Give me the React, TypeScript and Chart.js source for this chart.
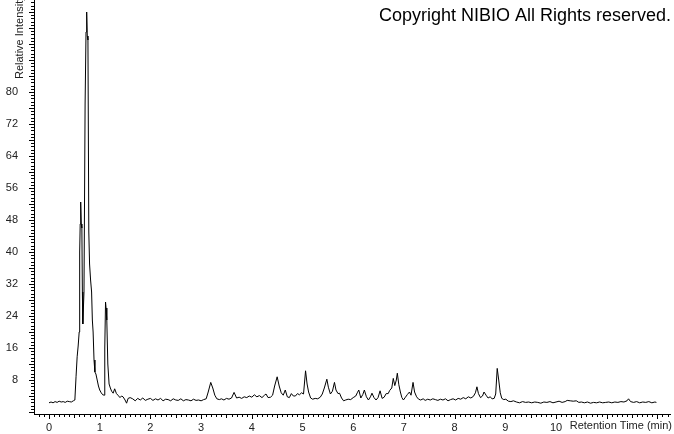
import { useEffect, useRef } from 'react';
import { Chart, registerables } from 'chart.js';

Chart.register(...registerables);

// ---- Data (retention time in minutes, relative intensity) ----
const earlyTimes = [
  0.0, 0.04, 0.08, 0.12, 0.16, 0.2, 0.24, 0.28, 0.32, 0.36, 0.4, 0.44, 0.48, 0.51,
  0.533, 0.555, 0.575, 0.595, 0.605, 0.615, 0.625, 0.637, 0.648, 0.658, 0.667, 0.69, 0.712,
  0.73, 0.743, 0.755, 0.768, 0.785, 0.8, 0.82, 0.84, 0.855, 0.87, 0.888, 0.905, 0.925,
  0.95, 0.975, 1.0, 1.03, 1.06, 1.09, 1.1, 1.115, 1.125, 1.14, 1.16, 1.185, 1.21, 1.235,
  1.265, 1.295, 1.33, 1.36, 1.4, 1.43, 1.46, 1.5, 1.53, 1.56, 1.6,
];
const earlyIntensity = [
  2.3, 2.5, 2.3, 2.6, 2.4, 2.7, 2.5, 2.6, 2.4, 2.7, 2.6, 2.5, 2.8, 3.0,
  8.8, 13.8, 16.5, 20, 40, 47, 52.5, 47, 46, 30, 22, 30, 77,
  95, 100, 94, 93, 45, 37, 33, 30, 23, 20, 13, 10, 9.5,
  8, 6.5, 5.5, 4.8, 4.3, 4.2, 16, 27.5, 26, 23, 12, 7, 6, 5.2,
  4.7, 5.8, 4.6, 4.2, 3.6, 4.0, 3.8, 3.0, 2.2, 3.4, 3.6,
];

const midTimes = [
  1.65, 1.7, 1.75, 1.8, 1.85, 1.9, 1.95, 2.0, 2.05, 2.1, 2.15, 2.2, 2.25, 2.3, 2.35, 2.4,
  2.45, 2.5, 2.55, 2.6, 2.65, 2.7, 2.75, 2.8, 2.85, 2.9, 2.95, 3.0, 3.05,
  3.1, 3.14, 3.19, 3.23, 3.27, 3.31, 3.36, 3.4, 3.45, 3.5, 3.55, 3.6, 3.65, 3.7, 3.75, 3.8,
  3.85, 3.9, 3.95, 4.0, 4.05, 4.1, 4.15, 4.2, 4.25, 4.28, 4.32, 4.37, 4.41, 4.45, 4.5,
  4.54, 4.58, 4.62, 4.66, 4.7, 4.74, 4.78, 4.82, 4.86, 4.9, 4.94, 4.98, 5.02, 5.06, 5.09,
  5.12, 5.16, 5.2, 5.25, 5.3, 5.35, 5.39, 5.43, 5.48, 5.51, 5.55, 5.59, 5.63, 5.66, 5.7,
  5.73, 5.77, 5.81, 5.85, 5.9, 5.95, 6.0, 6.05, 6.08, 6.11, 6.15, 6.19, 6.22, 6.26, 6.3,
  6.34, 6.37, 6.41, 6.45, 6.49, 6.53, 6.57, 6.61, 6.65, 6.69, 6.72, 6.76, 6.79, 6.82, 6.85,
  6.87, 6.9, 6.93, 6.96, 6.99, 7.03, 7.07, 7.11, 7.14, 7.18, 7.21, 7.25, 7.29, 7.33, 7.38,
  7.42, 7.47, 7.52, 7.57, 7.62, 7.67, 7.72, 7.77, 7.82, 7.87, 7.92, 7.97, 8.02, 8.07, 8.12,
  8.17, 8.22, 8.27, 8.32, 8.37, 8.41, 8.44, 8.47, 8.51, 8.55, 8.58, 8.62, 8.66, 8.7, 8.74,
  8.78, 8.81, 8.84, 8.87, 8.9, 8.93, 8.97, 9.01, 9.06, 9.11, 9.16,
];
const midIntensity = [
  3.3, 2.8, 3.4, 3.0, 3.5, 2.9, 3.2, 3.4, 2.9, 3.3, 3.0, 3.4, 2.8, 3.2, 3.1, 2.8,
  3.3, 3.0, 2.9, 3.3, 2.8, 3.1, 3.0, 2.8, 3.2, 2.9, 3.0, 2.8, 3.1,
  3.3, 5.0, 7.4, 6.0, 4.2, 3.3, 3.1, 3.3, 3.0, 3.4, 3.2, 3.5, 4.9, 3.5, 3.7, 3.4,
  3.8, 3.6, 4.0, 3.7, 4.3, 3.8, 4.1, 3.6, 4.2, 4.5, 3.6, 3.7, 4.2, 6.5, 8.8,
  6.5, 4.8, 4.2, 5.5, 3.8, 3.6, 4.6, 4.0, 4.0, 4.6, 4.3, 4.8, 4.5, 10.3, 7.0,
  5.0, 3.5, 3.2, 3.4, 3.3, 3.7, 4.5, 6.0, 8.2, 6.2, 4.5, 5.2, 7.4, 5.5, 4.6,
  4.7, 3.5, 2.8, 3.0, 3.2, 3.1, 3.6, 4.0, 4.8, 5.5, 3.5, 4.4, 5.5, 3.8, 3.0,
  3.8, 4.7, 3.6, 3.0, 3.6, 5.3, 3.4, 3.7, 4.6, 4.6, 5.4, 6.0, 8.4, 6.6, 8.0,
  9.7, 6.8, 5.0, 3.6, 3.0, 3.7, 4.4, 5.0, 4.2, 7.4, 5.0, 3.8, 3.2, 3.0, 3.3,
  2.9, 3.2, 3.0, 3.3, 3.1, 2.9, 3.2, 3.0, 3.3, 2.8, 3.1, 3.3, 3.0, 3.4, 3.2,
  3.6, 3.3, 3.8, 3.5, 3.9, 4.8, 6.3, 4.6, 3.6, 4.0, 5.0, 4.2, 3.5, 3.8, 3.3,
  3.4, 4.5, 10.9, 8.0, 4.8, 3.4, 3.1, 3.2, 2.7, 2.6, 2.8,
];

const lateTimes = [
  9.22, 9.28, 9.34, 9.4, 9.46, 9.52, 9.58, 9.64, 9.7, 9.76, 9.82, 9.88, 9.94, 10.0,
  10.06, 10.12, 10.18, 10.22, 10.28, 10.34, 10.4, 10.45, 10.5, 10.56, 10.62, 10.68, 10.74,
  10.8, 10.86, 10.92, 10.98, 11.04, 11.1, 11.16, 11.22, 11.28, 11.34, 11.4, 11.43, 11.47,
  11.53, 11.59, 11.65, 11.71, 11.77, 11.83, 11.89, 11.95, 11.98,
];
const lateIntensity = [
  2.5, 2.3, 2.6, 2.4, 2.5, 2.3, 2.5, 2.4, 2.2, 2.5, 2.4, 2.6, 2.3, 2.5,
  2.7, 2.4, 2.6, 2.9, 2.8, 2.7, 2.8, 2.4, 2.5, 2.3, 2.5, 2.2, 2.4,
  2.3, 2.5, 2.3, 2.4, 2.5, 2.3, 2.5, 2.4, 2.6, 2.5, 2.8, 3.3, 2.6,
  2.4, 2.6, 2.3, 2.5, 2.4, 2.6, 2.3, 2.5, 2.4,
];

const xTickLabels = [0, 1, 2, 3, 4, 5, 6, 7, 8, 9, 10];
const yTickLabels = [8, 16, 24, 32, 40, 48, 56, 64, 72, 80];

const X_MIN = -0.296;
const X_MAX = 12.248;
const Y_MIN = -0.5;
const Y_MAX = 103;

const FONT = '"Liberation Sans", Arial, sans-serif';

const axisDecor = {
  id: 'axisDecor',
  afterDraw(chart: any) {
    const { ctx, chartArea } = chart;
    const x = chart.scales.x;
    const y = chart.scales.y;
    ctx.save();
    ctx.strokeStyle = '#000';
    ctx.lineWidth = 1;
    ctx.beginPath();
    // x-axis minor / major ticks every 0.1 min
    for (let i = -2; i <= 125; i++) {
      const px = Math.round(x.getPixelForValue(i / 10)) + 0.5;
      if (px < chartArea.left || px > chartArea.right + 0.5) continue;
      const len = i % 10 === 0 ? 5 : i % 5 === 0 ? 4 : 3;
      ctx.moveTo(px, chartArea.bottom);
      ctx.lineTo(px, chartArea.bottom + len);
    }
    // y-axis ticks every 0.8, long every 4
    for (let i = 0; i <= 130; i++) {
      const py = Math.round(y.getPixelForValue(i * 0.8)) + 0.5;
      if (py < chartArea.top) continue;
      const len = i % 5 === 0 ? 5 : 3;
      ctx.moveTo(chartArea.left, py);
      ctx.lineTo(chartArea.left - len, py);
    }
    ctx.stroke();

    ctx.fillStyle = '#222';
    ctx.font = `11px ${FONT}`;
    ctx.textAlign = 'right';
    ctx.textBaseline = 'alphabetic';
    ctx.fillText('Retention Time (min)', 672, 429);

    ctx.save();
    ctx.translate(23, 79);
    ctx.rotate(-Math.PI / 2);
    ctx.textAlign = 'left';
    ctx.fillText('Relative Intensity', 0, 0);
    ctx.restore();

    ctx.fillStyle = '#000';
    ctx.font = `18px ${FONT}`;
    ctx.textAlign = 'right';
    ctx.fillText('Copyright NIBIO All Rights reserved.', 671, 21);
    ctx.restore();
  },
};

export default function App() {
  const ref = useRef<HTMLCanvasElement | null>(null);

  useEffect(() => {
    if (!ref.current) return;
    const times = [...earlyTimes, ...midTimes, ...lateTimes];
    const values = [...earlyIntensity, ...midIntensity, ...lateIntensity];
    const points = times.map((t, i) => ({ x: t, y: values[i] }));

    const chart = new Chart(ref.current, {
      type: 'line',
      data: {
        datasets: [
          {
            data: points,
            borderColor: '#000',
            borderWidth: 1,
            pointRadius: 0,
            tension: 0,
            fill: false,
          },
        ],
      },
      options: {
        animation: false,
        responsive: false,
        maintainAspectRatio: false,
        layout: { autoPadding: false, padding: { left: 0, right: 4, top: 0, bottom: 0 } },
        plugins: { legend: { display: false }, tooltip: { enabled: false } },
        scales: {
          x: {
            type: 'linear',
            min: X_MIN,
            max: X_MAX,
            afterBuildTicks: (scale: any) => {
              scale.ticks = xTickLabels.map((v) => ({ value: v }));
            },
            afterFit: (scale: any) => {
              scale.height = 20;
              scale.paddingLeft = 0;
              scale.paddingRight = 0;
            },
            grid: { display: false, drawTicks: true, tickLength: 7 },
            border: { display: true, color: '#000', width: 1 },
            ticks: {
              autoSkip: false,
              maxRotation: 0,
              padding: 0,
              color: '#222',
              font: { family: FONT, size: 11 },
              callback: (v: any) => String(v),
            },
          },
          y: {
            type: 'linear',
            min: Y_MIN,
            max: Y_MAX,
            afterBuildTicks: (scale: any) => {
              scale.ticks = yTickLabels.map((v) => ({ value: v }));
            },
            afterFit: (scale: any) => {
              scale.width = 34;
              scale.paddingTop = 0;
              scale.paddingBottom = 0;
            },
            grid: { display: false, drawTicks: true, tickLength: 16 },
            border: { display: true, color: '#000', width: 1 },
            ticks: {
              autoSkip: false,
              padding: 0,
              color: '#222',
              font: { family: FONT, size: 11 },
              callback: (v: any) => String(v),
            },
          },
        },
      },
      plugins: [axisDecor],
    });
    return () => chart.destroy();
  }, []);

  return (
    <div style={{ position: 'absolute', left: 0, top: 0, width: 674, height: 434, background: '#fff' }}>
      <canvas ref={ref} width={674} height={434} />
    </div>
  );
}
